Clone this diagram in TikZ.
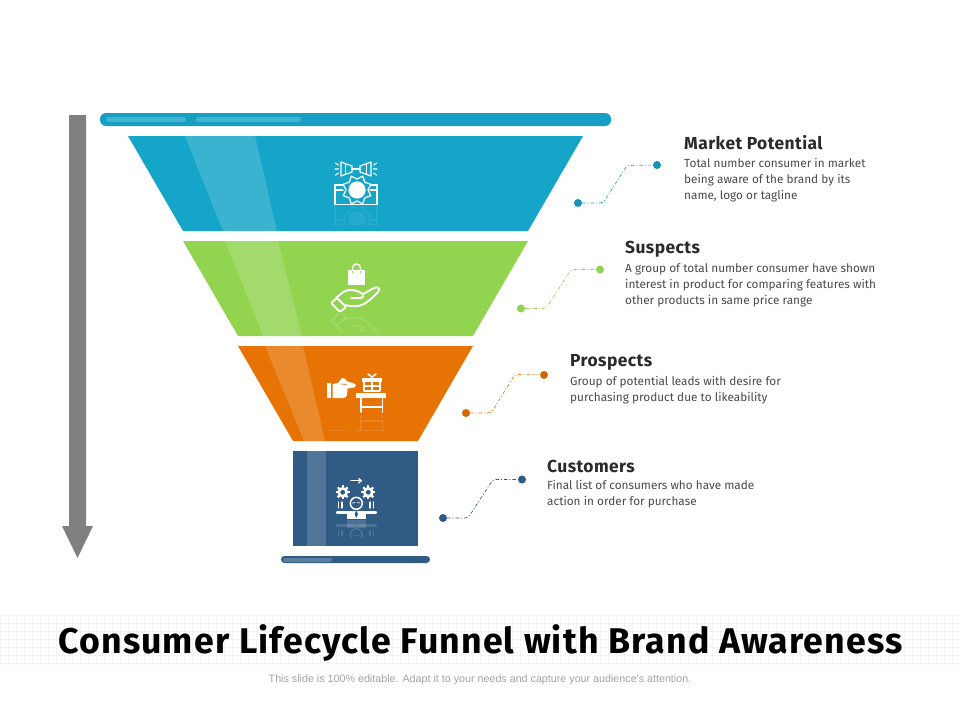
\documentclass[tikz,border=0pt]{standalone}
\usepackage{fontspec}
\setmainfont{Fira Sans}
\newfontfamily\titlefont[LetterSpace=3.2,BoldFont={Fira Sans Bold}]{Fira Sans}
\newfontfamily\headfont[LetterSpace=2.5,BoldFont={Fira Sans Bold}]{Fira Sans}
\newfontfamily\footfont{Liberation Sans}
\definecolor{cblue}{HTML}{15A5C9}
\definecolor{cbarblue}{HTML}{169EC4}
\definecolor{cbarhi}{HTML}{42B4D2}
\definecolor{cgreen}{HTML}{92D350}
\definecolor{corange}{HTML}{E87305}
\definecolor{cnavy}{HTML}{2F5B85}
\definecolor{cnavyhi}{HTML}{5C7FA0}
\definecolor{cgrey}{HTML}{808080}
\definecolor{chead}{HTML}{2A2A2A}
\definecolor{cbody}{HTML}{4A4A4A}
\definecolor{cfoot}{HTML}{A3A3A3}
\definecolor{cgrid}{HTML}{F3F3F3}
\tikzset{
  x=1pt,y=-1pt,
  beam/.style={fill=white,fill opacity=.16,draw=none},
  heading/.style={anchor=base west,inner sep=0pt,text=chead,font=\fontsize{17.4}{20}\headfont\bfseries},
  bodytext/.style={anchor=north west,inner sep=0pt,text=cbody,align=left,font=\fontsize{11.8}{16}\selectfont},
  dotmark/.style={circle,inner sep=0pt,minimum size=8pt,fill=#1,draw=none},
  leader/.style={draw=#1,line width=.65pt,dash pattern=on 3.5pt off 2pt on 1pt off 2pt,rounded corners=3pt},
  iconline/.style={draw=white,line width=1.2pt,line join=round,line cap=round},
  iconfill/.style={fill=white,draw=none},
}
\newcommand{\iconMega}{%
  \path[iconline] (341,162)--(352,166)--(352,172)--(341,176)--cycle;
  \path[iconline] (345.5,164)--(345.5,174);
  \path[iconline] (371,162)--(360,166)--(360,172)--(371,176)--cycle;
  \path[iconline] (366.5,164)--(366.5,174);
  \path[iconline] (352,169)--(360,169);
  \path[iconline] (335.5,163)--(338.5,165) (335,169)--(338.5,169) (335.5,175)--(338.5,173);
  \path[iconline] (376.5,163)--(373.5,165) (377,169)--(373.5,169) (376.5,175)--(373.5,173);
  \path[iconline] (335,185)--(345,185) (369,185)--(377,185);
  \path[iconline] (335,185)--(335,204.5)--(377,204.5)--(377,185);
  \path[iconline] (335,190)--(343,190) (370,190)--(377,190);
  \path[iconline,fill=cblue] plot[samples at={0,22.5,...,337.5}] ({357+(11+4*mod(round(\x/22.5),2))*cos(\x)},{190+(11+4*mod(round(\x/22.5),2))*sin(\x)}) -- cycle;
  \path[iconfill] (357,190) circle (8.6);
}
\newcommand{\iconHand}{%
  \path[iconfill] (348,270) rectangle (365,285);
  \path[draw=white,line width=1.4pt] (352.5,273) -- (352.5,268) arc (180:360:4) -- (360.5,273);
  \path[draw=cgreen,line width=.7pt] (352.5,270.5) -- (352.5,273) (360.5,270.5) -- (360.5,273);
  \path[iconline,line width=1.9pt] (336,298) .. controls (341,294) and (344,290) .. (350,290) .. controls (354,290) and (358,291) .. (361,293) .. controls (365,295) and (363,298) .. (360,298) -- (351,298);
  \path[iconline,line width=1.9pt] (363,294) -- (374,288) .. controls (378,286) and (381,289) .. (378,292) .. controls (372,298) and (367,303) .. (362,305) .. controls (357,307) and (350,306) .. (344,305);
  \path[iconline,line width=1.9pt] (332,302) -- (336,299) .. controls (337,298.5) and (338,299) .. (338,299) -- (345,306) .. controls (346,307) and (345,308) .. (345,308) -- (341,311) .. controls (340,311.5) and (339,311) .. (339,311) -- (332,304) .. controls (331,303) and (332,302) .. (332,302) -- cycle;
}
\newcommand{\iconPoint}{%
  \path[iconfill] (326.5,383) rectangle (331,398);
  \path[iconfill] (332.5,384) -- (338,383) -- (342,378) .. controls (345,378) and (346,379) .. (346.5,381) -- (354,383.5) .. controls (356.5,385) and (356.5,386.5) .. (354,387.5) -- (347.5,388.5) -- (347,395) .. controls (346.5,397) and (345,398) .. (343,398) -- (332.5,398) -- cycle;
  \path[draw=corange,line width=.7pt] (341,384) -- (346.5,384.5);
  \path[iconfill] (362,378) rectangle (382,381.5);
  \path[iconline,line width=1.5pt] (364,381) rectangle (380,391);
  \path[iconline,line width=1.5pt] (372,378) -- (372,391) (364,386) -- (380,386);
  \path[iconline,line width=1.5pt] (372,377) -- (368,374) (372,377) -- (376,374);
  \path[iconfill] (356,392.5) rectangle (386,398);
  \path[iconline,line width=1.6pt] (361,398) -- (361,412) (382.5,398) -- (382.5,412) (361,407) -- (382.5,407);
}
\newcommand{\gearicon}[2]{%
  \path[iconfill] (#1,#2) circle (5.4);
  \foreach \a in {0,45,...,315}{\path[draw=white,line width=2.2pt] (#1,#2) ++(\a:4) -- ++(\a:3);}
  \path[fill=cnavy] (#1,#2) circle (2.4);
}
\newcommand{\iconPerson}{%
  \path[iconline] (351,480.7) -- (361,480.7);
  \path[iconline] (358.5,478.5) -- (361.5,480.7) -- (358.5,483);
  \gearicon{342.7}{492.3}
  \gearicon{368.3}{492.3}
  \path[iconline] (338.5,502) -- (338.5,508) (342,502) -- (342,508) (370,502) -- (370,508) (373.5,502) -- (373.5,508);
  \path[iconline,line width=1.5pt] (356.3,503.3) circle (6);
  \path[iconline,line width=.7pt] (352.5,503) -- (355,502.5) (357.5,502.5) -- (360,503);
  \path[iconfill] (347,510.5) -- (366,510.5) -- (366,518.5) -- (347,518.5) -- cycle;
  \path[iconline,line width=2.4pt] (337,512.5) -- (376,512.5);
  \path[fill=cnavy] (356.3,510.5) -- (358,514) -- (356.3,518) -- (354.6,514) -- cycle;
}
\begin{document}
\begin{tikzpicture}
\useasboundingbox (0,0) rectangle (960,720);
\fill[white] (0,0) rectangle (960,720);
% background grid
\foreach \gx in {0,8,...,960}{\draw[cgrid,line width=.5pt] (\gx,615) -- (\gx,665);}
\foreach \gy in {615,623,...,665}{\draw[cgrid,line width=.5pt] (0,\gy) -- (960,\gy);}
% arrow
\fill[cgrey] (69,115) -- (86,115) -- (86,526) -- (93,526) -- (77.5,558) -- (62,526) -- (69,526) -- cycle;
% bars
\fill[cbarblue,rounded corners=6pt] (100,113) rectangle (611,126);
\fill[cbarhi,rounded corners=2.5pt] (106,117) rectangle (186,122);
\fill[cbarhi,rounded corners=2.5pt] (196,117) rectangle (301,122);
\fill[cnavy,rounded corners=3.5pt] (281,556) rectangle (430,563);
\fill[cnavyhi,rounded corners=2pt] (283,558) rectangle (332,562);
% funnel
\fill[cblue] (128,136) -- (583,136) -- (528,231) -- (183,231) -- cycle;
\fill[cgreen] (183,241) -- (528,241) -- (473,336) -- (238,336) -- cycle;
\fill[corange] (238,346) -- (473,346) -- (418,441) -- (293,441) -- cycle;
\fill[cnavy] (293,451) rectangle (418,546);
% beams
\path[beam] (185,136) -- (255,136) -- (277,231) -- (223,231) -- cycle;
\path[beam] (225,241) -- (278,241) -- (302,336) -- (263,336) -- cycle;
\path[beam] (265,346) -- (303,346) -- (325,441) -- (304,441) -- cycle;
\path[beam] (307,451) rectangle (326,546);
% icons
\iconMega
\begin{scope}
\clip (325,206) rectangle (390,224);
\begin{scope}[opacity=.07,yshift=-410pt,yscale=-1]\iconMega\end{scope}
\end{scope}
\iconHand
\begin{scope}
\clip (325,313) rectangle (390,331);
\begin{scope}[opacity=.12,yshift=-624pt,yscale=-1]\iconHand\end{scope}
\end{scope}
\iconPoint
\begin{scope}
\clip (320,415) rectangle (395,430);
\begin{scope}[opacity=.12,yshift=-828pt,yscale=-1]\iconPoint\end{scope}
\end{scope}
\iconPerson
\begin{scope}
\clip (330,520) rectangle (385,537);
\begin{scope}[opacity=.14,yshift=-1038pt,yscale=-1]\iconPerson\end{scope}
\end{scope}
% connectors
\node[dotmark=cblue!90!black] (a1) at (578,203) {};
\node[dotmark=cblue!90!black] (a2) at (657,165) {};
\coordinate (a3) at (603,203);
\coordinate (a4) at (627,165.5);
\draw[leader=cblue] (a1) -- (a3) -- (a4) -- (a2);
\node[dotmark=cgreen] (b1) at (521,308.5) {};
\node[dotmark=cgreen] (b2) at (600,269.5) {};
\coordinate (b3) at (546,308.5);
\coordinate (b4) at (571,269.5);
\draw[leader=cgreen] (b1) -- (b3) -- (b4) -- (b2);
\node[dotmark=corange!90!black] (c1) at (466,413) {};
\node[dotmark=corange!90!black] (c2) at (544,375) {};
\coordinate (c3) at (491,413);
\coordinate (c4) at (515,374.5);
\draw[leader=corange] (c1) -- (c3) -- (c4) -- (c2);
\node[dotmark=cnavy] (d1) at (443,518) {};
\node[dotmark=cnavy] (d2) at (522,479.5) {};
\coordinate (d3) at (468,518);
\coordinate (d4) at (493,479.5);
\draw[leader=cnavy] (d1) -- (d3) -- (d4) -- (d2);
% texts
\node[heading] (h1) at (684,149) {Market Potential};
\node[bodytext] (t1) at (684,158) {Total number consumer in market\\being aware of the brand by its\\name, logo or tagline};
\node[heading] (h2) at (625,253) {Suspects};
\node[bodytext] (t2) at (625,263) {A group of total number consumer have shown\\interest in product for comparing features with\\other products in same price range};
\node[heading] (h3) at (570,366) {Prospects};
\node[bodytext] (t3) at (570,376) {Group of potential leads with desire for\\purchasing product due to likeability};
\node[heading] (h4) at (547,472) {Customers};
\node[bodytext] (t4) at (547,480) {Final list of consumers who have made\\action in order for purchase};
\node[inner sep=0pt,anchor=base,text=black] (title) at (480.5,653) {\fontsize{35.7}{40}\titlefont\bfseries Consumer Lifecycle Funnel with Brand Awareness};
\node[inner sep=0pt,anchor=base,text=cfoot] (foot) at (480,682) {\fontsize{10.72}{12}\footfont This slide is 100\% editable. Adapt it to your needs and capture your audience's attention.};
\end{tikzpicture}
\end{document}
